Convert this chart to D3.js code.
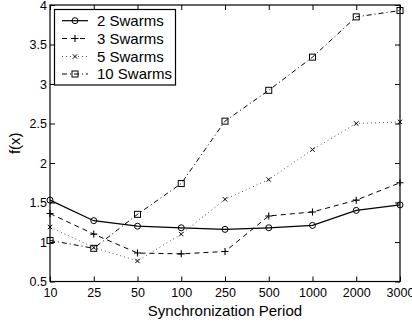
<!DOCTYPE html>
<html>
<head>
<meta charset="utf-8">
<script src="https://cdn.jsdelivr.net/npm/d3@7"></script>
<style>
  html, body { margin: 0; padding: 0; background: #fff; }
  svg { display: block; font-family: "Liberation Sans", Arial, Helvetica, sans-serif; }
</style>
</head>
<body>
<svg id="chart" width="412" height="323"></svg>
<script>
const categories = ["10", "25", "50", "100", "250", "500", "1000", "2000", "3000"];
const yTicks = [0.5, 1, 1.5, 2, 2.5, 3, 3.5, 4];
const seriesNames = ["2 Swarms", "3 Swarms", "5 Swarms", "10 Swarms"];
const swarms2 = [1.53, 1.27, 1.20, 1.18, 1.16, 1.18, 1.21, 1.40, 1.47];
const swarms3 = [1.36, 1.10, 0.86, 0.85, 0.88, 1.33, 1.38, 1.53, 1.75];
const swarms5 = [1.19, 0.93, 0.76, 1.10, 1.54, 1.79, 2.17, 2.50, 2.52];
const swarms10 = [1.02, 0.92, 1.35, 1.74, 2.53, 2.92, 3.34, 3.85, 3.93];

const seriesValues = [swarms2, swarms3, swarms5, swarms10];
const styles = [
  { dash: null, color: "#000", marker: "circle" },
  { dash: "5,4", color: "#000", marker: "plus" },
  { dash: "1,3", color: "#555", marker: "cross" },
  { dash: "5,3,1,3", color: "#000", marker: "square" }
];

const svg = d3.select("#chart");
const pLeft = 50, pRight = 400, pTop = 5, pBottom = 281.5;

const x = d3.scalePoint().domain(categories).range([pLeft, pRight]);
const y = d3.scaleLinear().domain([0.5, 4]).range([pBottom, pTop]);

// axes
const axB = d3.axisBottom(x).tickSizeInner(-5).tickSizeOuter(0).tickPadding(7);
const axT = d3.axisTop(x).tickSizeInner(-5).tickSizeOuter(0).tickFormat("");
const axL = d3.axisLeft(y).tickValues(yTicks).tickSizeInner(-5).tickSizeOuter(0).tickPadding(3).tickFormat(d3.format("~g"));
const axR = d3.axisRight(y).tickValues(yTicks).tickSizeInner(-5).tickSizeOuter(0).tickFormat("");

function styleAxis(g) {
  g.select(".domain").remove();
  g.selectAll(".tick line").attr("stroke", "#000");
  g.selectAll(".tick text").attr("fill", "#000").style("font-size", "12.5px");
}
svg.append("g").attr("transform", `translate(0,${pBottom})`).call(axB).call(styleAxis);
svg.append("g").attr("transform", `translate(0,${pTop})`).call(axT).call(styleAxis);
svg.append("g").attr("transform", `translate(${pLeft},0)`).call(axL).call(styleAxis);
svg.append("g").attr("transform", `translate(${pRight},0)`).call(axR).call(styleAxis);

svg.append("rect").attr("x", pLeft).attr("y", pTop).attr("width", pRight - pLeft).attr("height", pBottom - pTop)
  .attr("fill", "none").attr("stroke", "#000").attr("stroke-width", 1.2);

// lines
const line = d3.line().x((d, i) => x(categories[i])).y(d => y(d));

function drawMarker(g, type, cx, cy, color) {
  if (type === "circle") {
    g.append("circle").attr("cx", cx).attr("cy", cy).attr("r", 3).attr("fill", "none").attr("stroke", color);
  } else if (type === "plus") {
    g.append("path").attr("d", `M${cx-3.5},${cy}H${cx+3.5}M${cx},${cy-3.5}V${cy+3.5}`).attr("stroke", color).attr("stroke-width", 1.1);
  } else if (type === "cross") {
    g.append("path").attr("d", `M${cx-2.2},${cy-2.2}L${cx+2.2},${cy+2.2}M${cx-2.2},${cy+2.2}L${cx+2.2},${cy-2.2}`).attr("stroke", "#000").attr("stroke-width", 1);
  } else if (type === "square") {
    g.append("rect").attr("x", cx - 3).attr("y", cy - 3).attr("width", 6).attr("height", 6).attr("fill", "none").attr("stroke", color);
  }
}

seriesValues.forEach((vals, si) => {
  const st = styles[si];
  const g = svg.append("g");
  g.append("path").datum(vals).attr("d", line).attr("fill", "none")
    .attr("stroke", st.color).attr("stroke-width", si === 0 ? 1.2 : 1)
    .attr("stroke-dasharray", st.dash);
  vals.forEach((v, i) => drawMarker(g, st.marker, x(categories[i]), y(v), "#000"));
});

// legend
const lg = svg.append("g");
lg.append("rect").attr("x", 54.5).attr("y", 9.5).attr("width", 121).attr("height", 75.5)
  .attr("fill", "#fff").attr("stroke", "#000").attr("stroke-width", 1.2);
const legendY = [20.7, 38.5, 56.5, 74];
seriesNames.forEach((name, i) => {
  const st = styles[i];
  const yy = legendY[i];
  lg.append("path").attr("d", `M62,${yy}H88`).attr("stroke", st.color)
    .attr("stroke-width", i === 0 ? 1.2 : 1).attr("stroke-dasharray", st.dash);
  drawMarker(lg, st.marker, 75, yy, "#000");
  lg.append("text").attr("x", 97).attr("y", yy).attr("dy", "0.36em")
    .style("font-size", "15px").attr("fill", "#000").text(name);
});

// axis labels
svg.append("text").attr("x", (pLeft + pRight) / 2).attr("y", 316).attr("text-anchor", "middle")
  .style("font-size", "15px").attr("fill", "#000").text("Synchronization Period");
svg.append("text").attr("transform", `translate(20,${(pTop + pBottom) / 2}) rotate(-90)`)
  .attr("text-anchor", "middle").style("font-size", "15px").attr("fill", "#000").text("f(x)");
</script>
</body>
</html>
